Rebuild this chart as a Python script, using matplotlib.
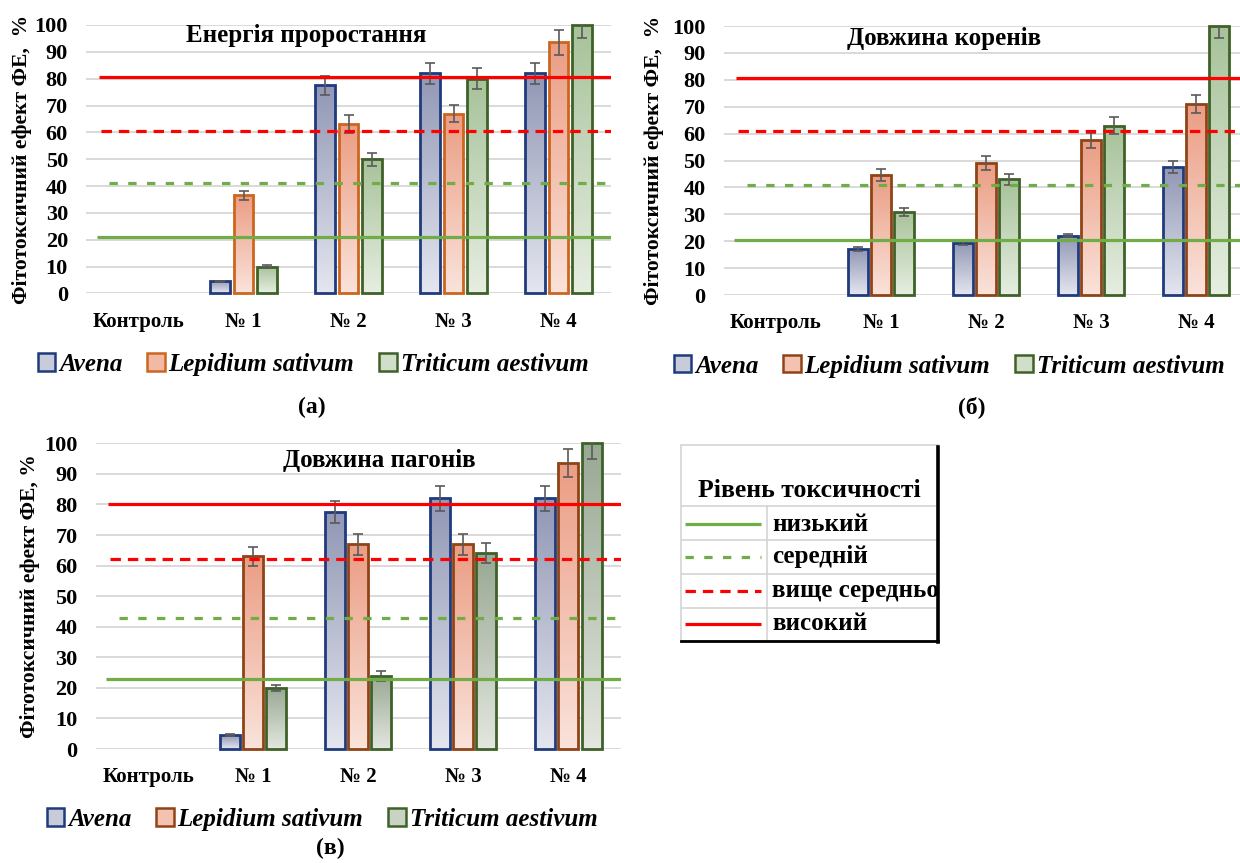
import numpy as np
import matplotlib
matplotlib.use("Agg")
import matplotlib.pyplot as plt
from matplotlib.colors import LinearSegmentedColormap
from matplotlib.patches import Patch, Rectangle

plt.rcParams['font.family'] = ['Liberation Serif', 'DejaVu Serif']
plt.rcParams['lines.scale_dashes'] = False

# ---------------- data ----------------
categories = ['Контроль', '№ 1', '№ 2', '№ 3', '№ 4']
species = ['Avena', 'Lepidium sativum', 'Triticum aestivum']

# (а) Енергія проростання
a_avena = [0, 4.5, 77.5, 82, 82]
a_lepidium = [0, 36.5, 63, 67, 93.5]
a_triticum = [0, 10, 50, 80, 100]
a_avena_err = [0, 0.3, 3.5, 4, 4]
a_lepidium_err = [0, 1.7, 3.3, 3.3, 4.7]
a_triticum_err = [0, 0.5, 2.4, 4, 5]
a_levels = [21, 41, 60.5, 80.5]   # низький, середній, вище середнього, високий

# (б) Довжина коренів
b_avena = [0, 17, 19.5, 22, 47.5]
b_lepidium = [0, 44.5, 49, 57.5, 71]
b_triticum = [0, 31, 43, 63, 100]
b_avena_err = [0, 0.7, 1, 0.6, 2.3]
b_lepidium_err = [0, 2.3, 2.6, 2.9, 3.5]
b_triticum_err = [0, 1.5, 2.1, 3.1, 4.6]
b_levels = [20.5, 41, 61, 80.5]

# (в) Довжина пагонів
c_avena = [0, 4.5, 77.5, 82, 82]
c_lepidium = [0, 63, 67, 67, 93.5]
c_triticum = [0, 20, 24, 64, 100]
c_avena_err = [0, 0.3, 3.5, 4, 4]
c_lepidium_err = [0, 3.1, 3.4, 3.4, 4.6]
c_triticum_err = [0, 0.9, 1.6, 3.3, 5]
c_levels = [23, 43, 62, 80]

yticks = list(range(0, 101, 10))
level_names = ['низький', 'середній', 'вище середнього', 'високий']

# ---------------- styles ----------------
GREEN = '#70ad47'
RED = '#ff0000'
level_styles = [
    dict(color=GREEN, ls='-', start=-0.40),
    dict(color=GREEN, ls=(0, (6.0, 7.5)), start=-0.28),
    dict(color=RED, ls=(0, (7.5, 5.0)), start=-0.36),
    dict(color=RED, ls='-', start=-0.38),
]

fig = plt.figure(figsize=(12.4, 8.63), dpi=100)
W, H = 1240, 863


def px_axes(left, top, right, bottom):
    return fig.add_axes([left / W, 1 - bottom / H, (right - left) / W, (bottom - top) / H])


def draw_panel(ax, series, errs, levels, title, title_xy, lep_edge, trit_cols, ylabel, ylab_px):
    n = len(categories)
    x = np.arange(n)
    width = 0.19
    offs = [-0.22, 0.0, 0.22]
    tops = ['#9197b5', '#eb9d83', trit_cols[0]]
    bots = ['#e4e6ef', '#fae3db', trit_cols[1]]
    edges = ['#1f3a7d', lep_edge, '#3e6128']
    grad = np.linspace(0, 1, 256).reshape(-1, 1)
    for vals, err, off, tc, bc, ec in zip(series, errs, offs, tops, bots, edges):
        cmap = LinearSegmentedColormap.from_list('g', [bc, tc])
        bars = ax.bar(x + off, vals, width, facecolor='none', edgecolor=ec,
                      linewidth=2.0, zorder=3, clip_on=False)
        for b in bars:
            h = b.get_height()
            if h <= 0:
                b.set_visible(False)
                continue
            im = ax.imshow(grad, extent=[b.get_x(), b.get_x() + b.get_width(), 0, h],
                           origin='lower', cmap=cmap, aspect='auto',
                           interpolation='bilinear', zorder=2.5)
            im.set_clip_path(b)
        v = np.array(vals, float)
        e = np.array(err, float)
        m = v > 0
        ax.errorbar((x + off)[m], v[m], yerr=e[m], fmt='none', ecolor='#5a5a5a',
                    elinewidth=1.2, capsize=3.5, capthick=1.2, zorder=4)
    for lv, st in zip(levels, level_styles):
        ax.plot([st['start'], n - 0.5], [lv, lv], color=st['color'], ls=st['ls'],
                lw=2.3, zorder=5, solid_capstyle='butt')
    ax.set_xlim(-0.5, n - 0.5)
    ax.set_ylim(0, 100)
    ax.set_yticks(yticks)
    ax.set_xticks(x)
    ax.set_xticklabels(categories)
    ax.yaxis.grid(True, color='#d9d9d9', lw=1.4, zorder=0)
    ax.set_axisbelow(True)
    for s in ax.spines.values():
        s.set_visible(False)
    ax.tick_params(length=0, pad=0)
    ax.tick_params(axis='y', pad=13, labelsize=16)
    ax.tick_params(axis='x', pad=13, labelsize=15)
    for lab in ax.get_xticklabels() + ax.get_yticklabels():
        lab.set_fontweight('bold')
    ax.set_ylabel(ylabel, fontsize=15.5, fontweight='bold')
    bb = ax.get_position()
    ax.yaxis.set_label_coords(-(bb.x0 * W - ylab_px) / (bb.width * W), 0.5)
    ax.yaxis.label.set_verticalalignment('center')
    ax.text(title_xy[0], title_xy[1], title, transform=ax.transAxes, ha='center',
            va='center', fontsize=18, fontweight='bold', zorder=6)


def panel_legend(cx, cy, lep_fill, lep_edge, trit_fill):
    handles = [Patch(facecolor='#c8cbda', edgecolor='#1f3a7d', lw=1.8),
               Patch(facecolor=lep_fill, edgecolor=lep_edge, lw=1.8),
               Patch(facecolor=trit_fill, edgecolor='#3e6128', lw=1.8)]
    fig.legend(handles, species, loc='center', bbox_to_anchor=(cx / W, 1 - cy / H),
               ncol=3, frameon=False, handlelength=0.7, handleheight=0.7,
               handletextpad=0.15, columnspacing=1.0,
               prop=dict(family='Liberation Serif', style='italic', weight='bold', size=18))


# (а)
ax_a = px_axes(86, 25, 611, 293.5)
draw_panel(ax_a, [a_avena, a_lepidium, a_triticum],
           [a_avena_err, a_lepidium_err, a_triticum_err], a_levels,
           'Енергія проростання', (0.42, 0.96), '#cc661f', ('#a7c29a', '#e6eee1'),
           'Фітотоксичний ефект ФЕ,  %', 22)
panel_legend(313, 364, '#f2b9a5', '#cc661f', '#d1dec9')
fig.text(312 / W, 1 - 407 / H, '(а)', ha='center', va='center', fontsize=17, fontweight='bold')

# (б)
ax_b = px_axes(723.5, 26, 1248.5, 295)
draw_panel(ax_b, [b_avena, b_lepidium, b_triticum],
           [b_avena_err, b_lepidium_err, b_triticum_err], b_levels,
           'Довжина коренів', (0.42, 0.955), '#8f4417', ('#a7c29a', '#e6eee1'),
           'Фітотоксичний ефект ФЕ,  %', 654)
panel_legend(949, 366, '#f4c2b0', '#8f4417', '#d1dec9')
fig.text(972 / W, 1 - 407 / H, '(б)', ha='center', va='center', fontsize=17, fontweight='bold')

# (в)
ax_c = px_axes(95.5, 443.3, 621, 749)
draw_panel(ax_c, [c_avena, c_lepidium, c_triticum],
           [c_avena_err, c_lepidium_err, c_triticum_err], c_levels,
           'Довжина пагонів', (0.54, 0.945), '#8f4417', ('#98a893', '#e3e7df'),
           'Фітотоксичний ефект ФЕ, %', 30)
panel_legend(322, 819, '#f4c2b0', '#8f4417', '#c9d3c4')
fig.text(330 / W, 1 - 848 / H, '(в)', ha='center', va='center', fontsize=17, fontweight='bold')

# ---------------- toxicity legend box ----------------
L, T, R, B = 680.7, 445, 938.3, 640.7
axl = px_axes(L, T, R, B)
axl.set_xlim(L, R)
axl.set_ylim(B, T)
axl.axis('off')
grey = '#d4d4d4'
axl.add_patch(Rectangle((L, T), R - L, B - T, fill=False, ec=grey, lw=1.2, clip_on=False))
row_lines = [505.7, 539.5, 573.5, 607.5]
for yy in row_lines:
    axl.plot([L, R], [yy, yy], color=grey, lw=1.2)
axl.plot([766.7, 766.7], [row_lines[0], B], color=grey, lw=1.2)
axl.plot([R, R], [T + 2, B + 1.5], color='black', lw=2.6, clip_on=False)
axl.plot([L, R], [B, B], color='black', lw=2.0, clip_on=False)
axl.text((L + R) / 2, 490, 'Рівень токсичності', ha='center', va='center',
         fontsize=18.5, fontweight='bold')
row_centers = [524, 556.5, 590.5, 623.5]
for name, yc, st in zip(level_names, row_centers, level_styles):
    axl.plot([685, 761], [yc, yc], color=st['color'], ls=st['ls'], lw=2.3,
             solid_capstyle='butt')
    axl.text(772.5, yc, name, ha='left', va='center', fontsize=18,
             fontweight='bold', clip_on=True)

fig.savefig('out.png', dpi=100)
